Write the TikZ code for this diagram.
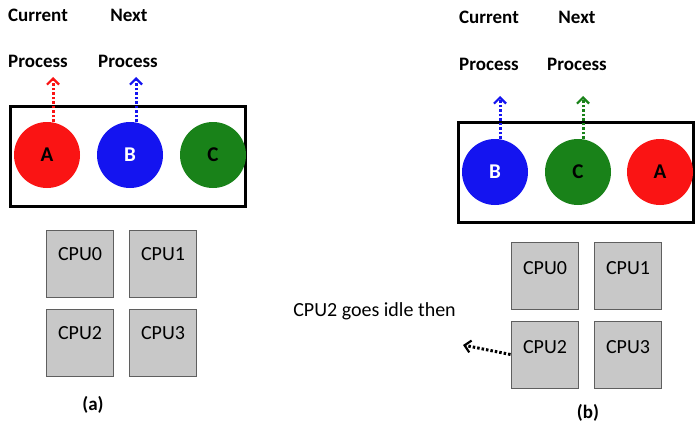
\documentclass[tikz,border=0pt]{standalone}
\usepackage{fontspec}
\setmainfont{Carlito}
\usetikzlibrary{arrows.meta}
\definecolor{cred}{RGB}{250,20,20}
\definecolor{cblue}{RGB}{20,20,240}
\definecolor{cgreen}{RGB}{25,130,25}
\definecolor{cpufill}{RGB}{200,200,200}
\definecolor{cpuedge}{RGB}{95,95,95}
\tikzset{
  procbox/.style={draw=black, line width=3pt, minimum width=235pt, minimum height=100pt, inner sep=0pt},
  proc/.style={circle, minimum size=66pt, inner sep=0pt, font=\fontsize{21}{21}\selectfont\bfseries},
  cpubox/.style={draw=cpuedge, fill=cpufill, line width=1pt, minimum size=67pt, inner sep=0pt},
  cpulbl/.style={anchor=base, font=\fontsize{20}{20}\selectfont, inner sep=0pt},
  head/.style={anchor=base, font=\fontsize{19}{19}\selectfont\bfseries, inner sep=0pt},
  caption/.style={font=\fontsize{19}{19}\selectfont\bfseries, inner sep=0pt},
  ptr/.style={line width=3pt, dash pattern=on 2.5pt off 2pt, -{Straight Barb[length=6pt,width=12pt,line width=2.2pt]}},
}
\begin{document}
\begin{tikzpicture}[x=1pt,y=-1pt]
\useasboundingbox (0,0) rectangle (700,433);
\fill[white] (0,0) rectangle (700,433);
% ---------- panel (a)
\node[head] (ha1) at (38,22) {Current};
\node[head] (ha2) at (129,22) {Next};
\node[head] (ha3) at (38,68) {Process};
\node[head] (ha4) at (128,68) {Process};
\node[procbox] (boxa) at (127.5,156) {};
\node[proc, fill=cred] (aA) at (47,155) {A};
\node[proc, fill=cblue, text=white] (aB) at (130,155) {B};
\node[proc, fill=cgreen] (aC) at (213,155) {C};
\coordinate (aAt) at (53,77);
\coordinate (aBt) at (136,77);
\draw[ptr, cred] ([xshift=6pt]aA.north) -- (aAt);
\draw[ptr, cblue] ([xshift=6pt]aB.north) -- (aBt);
\node[cpubox] (a0) at (79.5,263.5) {};
\node[cpubox] (a1) at (163,263.5) {};
\node[cpubox] (a2) at (79.5,342.5) {};
\node[cpubox] (a3) at (163,342.5) {};
\node[cpulbl] (a0t) at (80,260) {CPU0};
\node[cpulbl] (a1t) at (163,260) {CPU1};
\node[cpulbl] (a2t) at (80,339) {CPU2};
\node[cpulbl] (a3t) at (163,339) {CPU3};
\node[caption] (capa) at (93,405) {(a)};
% ---------- panel (b)
\node[head] (hb1) at (489,24) {Current};
\node[head] (hb2) at (577,24) {Next};
\node[head] (hb3) at (489,71) {Process};
\node[head] (hb4) at (577,71) {Process};
\node[procbox] (boxb) at (575.5,172) {};
\node[proc, fill=cblue, text=white] (bB) at (495,172) {B};
\node[proc, fill=cgreen] (bC) at (578,172) {C};
\node[proc, fill=cred] (bA) at (660,172) {A};
\coordinate (bBt) at (500,96);
\coordinate (bCt) at (583,96);
\draw[ptr, cblue] ([xshift=5pt]bB.north) -- (bBt);
\draw[ptr, cgreen] ([xshift=5pt]bC.north) -- (bCt);
\node[cpubox] (b0) at (544.5,275.5) {};
\node[cpubox] (b1) at (627.5,275.5) {};
\node[cpubox] (b2) at (544.5,354.5) {};
\node[cpubox] (b3) at (627.5,354.5) {};
\node[cpulbl] (b0t) at (545,274) {CPU0};
\node[cpulbl] (b1t) at (628,274) {CPU1};
\node[cpulbl] (b2t) at (545,353) {CPU2};
\node[cpulbl] (b3t) at (628,353) {CPU3};
\node[caption] (capb) at (588,413) {(b)};
\node[cpulbl] (idle) at (374.5,316) {CPU2 goes idle then};
\coordinate (idlet) at (463,345);
\draw[ptr, black] (b2.west) -- (idlet);
\end{tikzpicture}
\end{document}
